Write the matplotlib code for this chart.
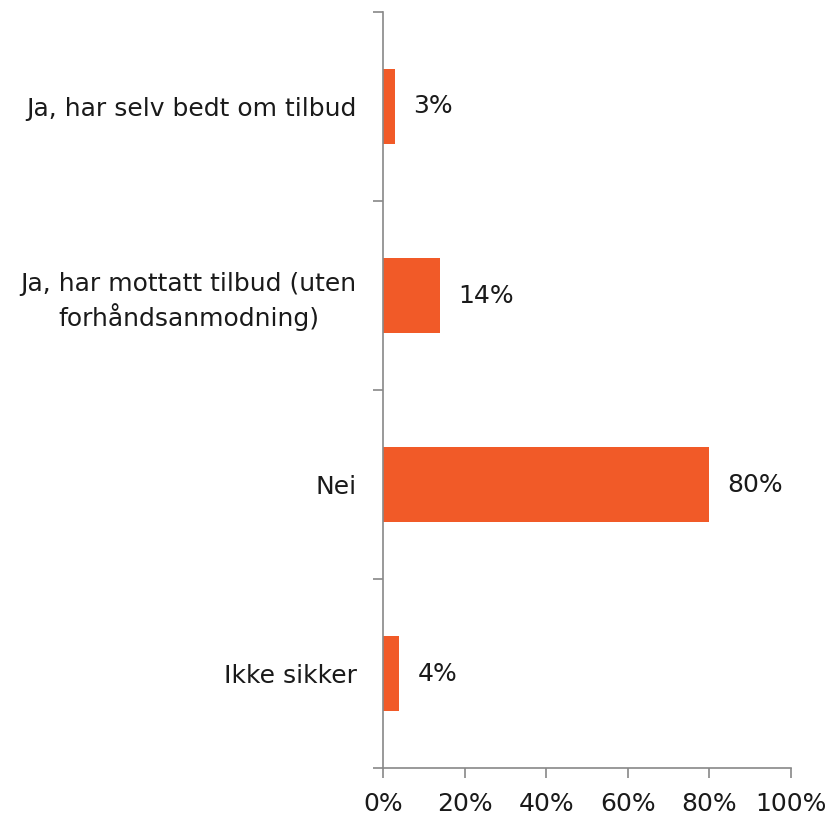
from matplotlib import pyplot as plt
from matplotlib.ticker import FixedLocator, PercentFormatter

categories = ['Ja, har selv bedt om tilbud',
              'Ja, har mottatt tilbud (uten\nforhåndsanmodning)',
              'Nei',
              'Ikke sikker']
values = [3, 14, 80, 4]

plt.rcParams['font.family'] = ['DejaVu Sans']

fig = plt.figure(figsize=(8.27, 8.16), dpi=100)
ax = fig.add_axes([0.463, 0.0588, 0.4935, 0.9265])

pos = list(range(len(categories)))
ax.barh(pos, values, height=0.4, color='#F15A28')

for p, v in zip(pos, values):
	ax.annotate(f'{v}%', (v, p), xytext=(13, 0), textcoords='offset points',
		va='center', ha='left', fontsize=18, color='#1a1a1a')

ax.set_xlim(0, 100)
ax.set_ylim(len(categories) - 0.5, -0.5)
ax.xaxis.set_major_formatter(PercentFormatter(decimals=0))
ax.set_xticks(range(0, 101, 20))

ax.set_yticks(pos)
ax.set_yticklabels(categories, ha='right', multialignment='center', linespacing=1.3)
ax.yaxis.set_minor_locator(FixedLocator([i - 0.5 for i in range(len(categories) + 1)]))
ax.tick_params(axis='y', which='major', length=0, pad=19, labelsize=18, labelcolor='#1a1a1a')
ax.tick_params(axis='y', which='minor', length=7, color='#888888', width=1.2)
ax.tick_params(axis='x', length=7, color='#888888', width=1.2, labelsize=18,
	labelcolor='#1a1a1a', pad=10)

for side in ['top', 'right']:
	ax.spines[side].set_visible(False)
for side in ['left', 'bottom']:
	ax.spines[side].set_color('#888888')
	ax.spines[side].set_linewidth(1.2)

plt.savefig('out.png', dpi=100)
